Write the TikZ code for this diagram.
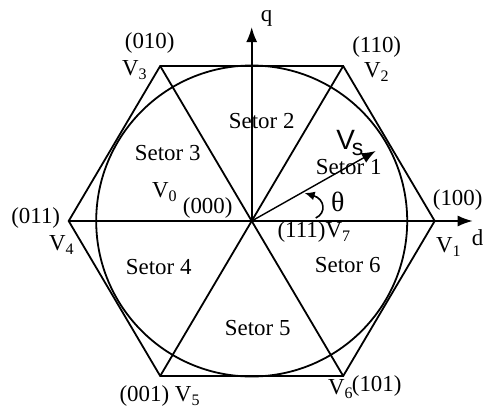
\documentclass[tikz,border=0pt]{standalone}
\usepackage{fontspec}
\setmainfont{Liberation Serif}
\setsansfont{Liberation Sans}
\usetikzlibrary{arrows.meta}
\begin{document}
\begin{tikzpicture}[x=1bp,y=1bp,line width=1.8bp,
  lbl/.style={font=\fontsize{23}{25}\selectfont, inner sep=0pt},
  tip/.style={-{Latex[length=15bp,width=11bp]}}]
\useasboundingbox (-251.7,-187) rectangle (233.3,221);
\coordinate (O) at (0,0);
\coordinate (P1) at (183,0);
\coordinate (P2) at (91.5,155);
\coordinate (P3) at (-91.5,155);
\coordinate (P4) at (-183,0);
\coordinate (P5) at (-91.5,-155);
\coordinate (P6) at (91.5,-155);
\coordinate (dend) at (221,0);
\coordinate (qend) at (0,194);
\coordinate (vsend) at (124,70);
\coordinate (tha) at (64,3);
\coordinate (thb) at (53,28);
\draw (P1)--(P2)--(P3)--(P4)--(P5)--(P6)--cycle;
\draw (O) circle (155.5);
\draw (P3)--(P6);
\draw (P2)--(P5);
\draw[tip] (P4)--(dend);
\draw[tip] (O)--(qend);
\draw[line width=1.4bp,-{Latex[length=14bp,width=11bp]}] (O)--(vsend);
\draw[line width=1.6bp,-{Latex[length=10bp,width=9bp]}] (tha) .. controls (75,8) and (73,22) .. (thb);
% labels
\node[lbl] (q) at (15,203) {q};
\node[lbl] (l010) at (-102,178) {(010)};
\node[lbl] (v3) at (-117,151) {V\textsubscript{3}};
\node[lbl] (l110) at (125,174) {(110)};
\node[lbl] (v2) at (125,149) {V\textsubscript{2}};
\node[lbl] (s2) at (10,100) {Setor 2};
\node[lbl] (s3) at (-84,68) {Setor 3};
\node[font=\sffamily\fontsize{28}{30}\selectfont,inner sep=0pt] (vsV) at (94,81) {V};
\node[font=\sffamily\fontsize{23}{25}\selectfont,inner sep=0pt] (vss) at (106,72) {s};
\node[lbl] (s1) at (97,54) {Setor 1};
\node[lbl] (v0) at (-87,29) {V\textsubscript{0}};
\node[lbl] (l000) at (-44,13) {(000)};
\node[font=\fontsize{28}{30}\selectfont,inner sep=0pt] (th) at (86,19) {θ};
\node[lbl] (l100) at (206,21) {(100)};
\node[lbl] (l011) at (-216,3) {(011)};
\node[lbl] (v4) at (-190,-24) {V\textsubscript{4}};
\node[lbl,anchor=west] (l111) at (25,-11) {(111)V\textsubscript{7}};
\node[lbl] (v1) at (197,-26) {V\textsubscript{1}};
\node[lbl] (d) at (226,-17) {d};
\node[lbl] (s4) at (-93,-46) {Setor 4};
\node[lbl] (s6) at (96,-44) {Setor 6};
\node[lbl] (s5) at (6,-107) {Setor 5};
\node[lbl,anchor=west] (l001) at (-133,-175) {(001) V\textsubscript{5}};
\node[lbl] (v6) at (89,-168) {V\textsubscript{6}};
\node[lbl] (l101) at (125,-165) {(101)};
\end{tikzpicture}
\end{document}
